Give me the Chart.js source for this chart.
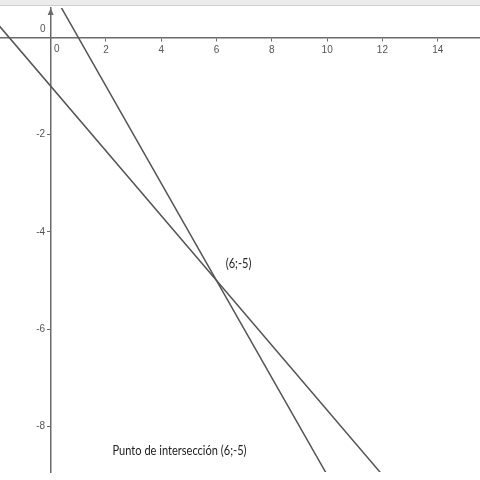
<!DOCTYPE html>
<html>
<head>
<meta charset="utf-8">
<script src="https://cdn.jsdelivr.net/npm/chart.js@4"></script>
<style>
  html, body { margin: 0; padding: 0; background: #fff; }
  #wrap { position: relative; width: 480px; height: 480px; }
  #barra { position: absolute; left: 0; top: 0; width: 480px; height: 5px; background: #ebebeb; border-bottom: 1px solid #cfcfcf; }
</style>
</head>
<body>
<div id="wrap">
  <canvas id="grafico" width="480" height="480"></canvas>
  <div id="barra"></div>
</div>
<script>
// rangos de los ejes
const rangoX = [-1.834, 15.53];
const rangoY = [-8.94, 0.608];

// marcas de los ejes
const marcasX = [2, 4, 6, 8, 10, 12, 14];
const marcasY = [-8, -6, -4, -2];

// recta 1: y = -2/3 x - 1
const recta1X = [-2, 6, 13];
const recta1Y = [0.333, -5, -9.667];

// recta 2: y = 1 - x
const recta2X = [-1, 6, 11];
const recta2Y = [2, -5, -10];

// punto de corte
const corte = { x: 6, y: -5, texto: '(6;-5)' };
const titulo = 'Punto de intersección (6;-5)';

const fuenteEje = { family: "'Liberation Sans', Arial, sans-serif", size: 10 };
const fuenteTexto = "14px Lato, 'Open Sans', sans-serif";
const colorLinea = '#555';
const colorEje = '#6a6a6a';

const aPuntos = (xs, ys) => xs.map((x, i) => ({ x: x, y: ys[i] }));

// texto estrechado horizontalmente (la imagen original viene comprimida)
const textoEstrecho = (ctx, texto, cx, cy, k) => {
    ctx.save();
    ctx.translate(cx, cy);
    ctx.scale(k, 1);
    ctx.fillText(texto, 0, 0);
    ctx.restore();
};

// textos y flecha del eje y
const extras = {
    id: 'extras',
    afterDraw(chart) {
        const ctx = chart.ctx;
        const sx = chart.scales.x;
        const sy = chart.scales.y;
        const x0 = sx.getPixelForValue(0);
        const y0 = sy.getPixelForValue(0);
        ctx.save();

        // flecha
        ctx.fillStyle = colorEje;
        ctx.beginPath();
        ctx.moveTo(x0, chart.chartArea.top);
        ctx.lineTo(x0 - 3, chart.chartArea.top + 7);
        ctx.lineTo(x0 + 3, chart.chartArea.top + 7);
        ctx.closePath();
        ctx.fill();

        // ceros del origen
        ctx.fillStyle = '#555';
        ctx.font = fuenteEje.size + 'px ' + fuenteEje.family;
        ctx.textAlign = 'center';
        ctx.textBaseline = 'middle';
        ctx.fillText('0', x0 + 6, y0 + 12);
        ctx.fillText('0', x0 - 8, y0 - 8);

        // etiquetas
        ctx.fillStyle = '#222';
        ctx.font = fuenteTexto;
        const k = 134 / ctx.measureText(titulo).width;
        textoEstrecho(ctx, corte.texto, sx.getPixelForValue(corte.x) + 22, sy.getPixelForValue(corte.y) - 17, k);
        textoEstrecho(ctx, titulo, 179.5, 450, k);
        ctx.restore();
    }
};

new Chart(document.getElementById('grafico'), {
    type: 'scatter',
    data: {
        datasets: [
            {
                data: aPuntos(recta1X, recta1Y),
                showLine: true,
                borderColor: colorLinea,
                borderWidth: 1.5,
                pointRadius: 0,
            },
            {
                data: aPuntos(recta2X, recta2Y),
                showLine: true,
                borderColor: colorLinea,
                borderWidth: 1.5,
                pointRadius: 0,
            },
        ],
    },
    options: {
        responsive: false,
        animation: false,
        layout: { padding: { top: 7, bottom: 8, left: 0, right: 0 } },
        plugins: {
            legend: { display: false },
            tooltip: { enabled: false },
        },
        scales: {
            x: {
                type: 'linear',
                min: rangoX[0],
                max: rangoX[1],
                position: { y: 0 },
                afterFit: (s) => { s.height = 0; },
                afterBuildTicks: (s) => { s.ticks = marcasX.map((v) => ({ value: v })); },
                grid: { drawOnChartArea: false, drawTicks: true, tickLength: 3, color: colorEje },
                border: { color: colorEje, width: 1.5 },
                ticks: { font: fuenteEje, color: '#555', padding: 4, maxRotation: 0 },
            },
            y: {
                type: 'linear',
                min: rangoY[0],
                max: rangoY[1],
                position: { x: 0 },
                afterFit: (s) => { s.width = 0; },
                afterBuildTicks: (s) => { s.ticks = marcasY.map((v) => ({ value: v })); },
                grid: { drawOnChartArea: false, drawTicks: true, tickLength: 3, color: colorEje },
                border: { color: colorEje, width: 1.5 },
                ticks: { font: fuenteEje, color: '#555', padding: 2, callback: (v) => v + '  ' },
            },
        },
    },
    plugins: [extras],
});
</script>
</body>
</html>
